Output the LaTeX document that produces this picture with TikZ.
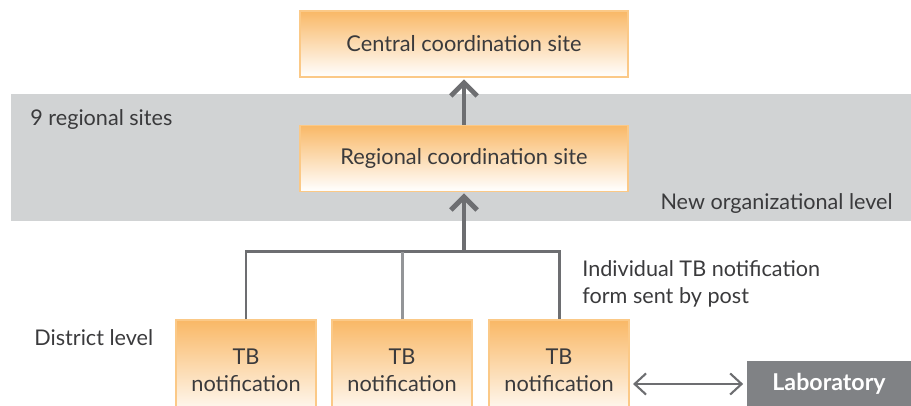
\documentclass[tikz,border=0pt]{standalone}
\usepackage{fontspec}
\setmainfont{Lato}
\usetikzlibrary{arrows.meta, positioning}
\definecolor{siteorange}{HTML}{F9B866}
\definecolor{siteedge}{HTML}{FBC987}
\definecolor{bandgray}{HTML}{D1D3D4}
\definecolor{linegray}{HTML}{6D6E71}
\definecolor{branchgray}{HTML}{939598}
\definecolor{labgray}{HTML}{808285}
\definecolor{textgray}{HTML}{3A3A3C}
\tikzset{
	org chart/.is family,
	org chart/.cd,
	site/.style = {
		draw = siteedge,
		line width = 0.6pt,
		top color = siteorange,
		bottom color = white,
		text = textgray,
		font = \fontsize{12.4}{15.4}\selectfont,
		minimum width = 6.56cm,
		minimum height = 1.32cm,
		align = center,
	},
	district site/.style = {
		minimum width = 2.8cm,
		minimum height = 2cm,
	},
	lab/.style = {
		fill = labgray,
		text = white,
		font = \fontsize{13.2}{15}\selectfont\bfseries,
		minimum width = 3.28cm,
		minimum height = 0.92cm,
	},
	band/.style = {
		draw = none,
		fill = bandgray,
	},
	report line/.style = {
		draw = linegray,
		line width = 2.8pt,
		-{Straight Barb[length = 7.5pt, width = 15pt]},
		% the tip should just touch the box
		shorten >= 1pt,
	},
	branch/.style = {
		draw = linegray,
		line width = 1.7pt,
	},
	lab link/.style = {
		draw = linegray,
		line width = 1.2pt,
		{Straight Barb[length = 6.5pt, width = 12pt]}-{Straight Barb[length = 6.5pt, width = 12pt]},
		shorten <= 2pt,
		shorten >= 2pt,
	},
	note/.style = {
		font = \fontsize{12.3}{15.4}\selectfont,
		text = textgray,
		inner sep = 0pt,
		align = left,
	},
}

\begin{document}
\begin{tikzpicture}
	\useasboundingbox (0, 0) rectangle (18.22, 8.12);
	\fill[org chart/band] (0.22, 3.70) rectangle (18.22, 6.24);
	\node[org chart/site] (central) at (9.28, 7.24) {Central coordination site};
	\node[org chart/site, below = 0.94 of central] (regional) {Regional coordination site};
	\foreach \x [count = \i] in {4.92, 8.04, 11.18}{
		\node[org chart/site, org chart/district site] (district-\i) at (\x, 0.72) {TB\\notification};
	}
	\node[org chart/lab] (lab) at (16.58, 0.44) {Laboratory};
	\coordinate (fork) at (9.28, 3.08);
	\draw[org chart/branch] (district-1.north) |- (fork) -| (district-3.north);
	\draw[org chart/branch, draw = branchgray] (district-2.north) -- (district-2.north |- fork);
	\draw[org chart/report line] ([yshift = 0.8pt] fork) -- (regional.south);
	\draw[org chart/report line] (regional) -- (central);
	\draw[org chart/lab link] (district-3.east |- lab.west) -- (lab.west);
	\node[org chart/note, anchor = west] (regional-count) at (0.6, 5.72) {9 regional sites};
	\node[org chart/note, anchor = east] (new-level) at (17.86, 4.04) {New organizational level};
	\node[org chart/note, anchor = west] (post-note) at (11.64, 2.45) {Individual TB notification\\form sent by post};
	\node[org chart/note, anchor = west] (district-level) at (0.68, 1.36) {District level};
\end{tikzpicture}
\end{document}
